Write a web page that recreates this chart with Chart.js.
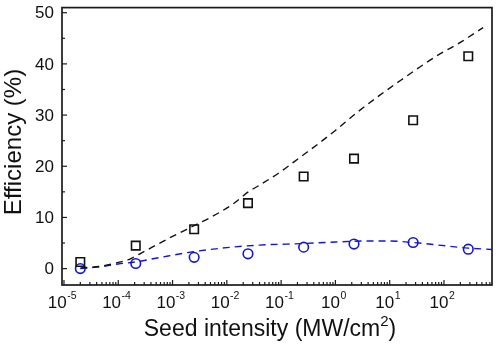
<!DOCTYPE html>
<html>
<head>
<meta charset="utf-8">
<script src="https://cdn.jsdelivr.net/npm/chart.js@4.4.1/dist/chart.umd.min.js"></script>
<style>
body{margin:0;background:#fff;}
#wrap{width:500px;height:346px;}
</style>
</head>
<body>
<div id="wrap"><canvas id="myChart"></canvas></div>
<script>
// measured points
const intensity = [2e-5, 2.1e-4, 2.5e-3, 2.45e-2, 0.26, 2.2, 27, 280];
const effSquares = [1.3, 4.5, 7.7, 12.8, 18.0, 21.5, 29.0, 41.5];
const effCircles = [0.0, 1.0, 2.2, 2.9, 4.2, 4.8, 5.1, 3.8];

// dashed simulation curves
const fitBlackX = [2e-5, 5e-5, 1e-4, 1.6e-4, 2.5e-4, 5e-4, 1e-3, 2.5e-3, 5e-3, 1.25e-2, 2.5e-2, 4e-2, 0.1, 0.22, 0.5, 1, 2.5, 6.6, 16, 36, 80, 200, 525];
const fitBlackY = [0.1, 0.5, 1.2, 1.8, 2.9, 4.6, 6.3, 8.4, 10.0, 12.5, 15.0, 16.3, 19.0, 21.7, 24.5, 27.0, 30.5, 33.9, 36.8, 39.4, 41.8, 44.2, 47.1];
const fitBlueX = [2e-5, 5e-5, 1e-4, 2.2e-4, 6e-4, 2.4e-3, 1e-2, 4e-2, 0.25, 1, 4, 10, 27, 80, 280, 750];
const fitBlueY = [0.0, 0.4, 0.9, 1.35, 2.2, 3.3, 4.1, 4.6, 4.9, 5.2, 5.4, 5.4, 5.1, 4.6, 4.0, 3.75];

const yTicks = [0, 10, 20, 30, 40, 50];
const xTickExp = [-5, -4, -3, -2, -1, 0, 1, 2];

const xMin = 9.2e-6, xMax = 766, yMin = -3.2, yMax = 51;
const blue = 'rgb(20,20,215)';
const fam = '"Liberation Sans", Arial, sans-serif';

const pts = (xs, ys) => xs.map((x, i) => ({x: x, y: ys[i]}));

const axesPlugin = {
    id: 'axesPlugin',
    afterDraw(chart){
        const ctx = chart.ctx;
        const a = chart.chartArea;
        const xs = chart.scales.x, ys = chart.scales.y;
        ctx.save();
        ctx.strokeStyle = '#1a1a1a';
        ctx.fillStyle = '#111';
        ctx.lineWidth = 1.7;
        ctx.strokeRect(a.left, a.top, a.right - a.left, a.bottom - a.top);

        // y ticks, inward
        ctx.lineWidth = 1.2;
        for (let v = 0; v <= 50; v += 5){
            const py = ys.getPixelForValue(v);
            const len = v % 10 === 0 ? 5 : 3;
            ctx.beginPath(); ctx.moveTo(a.left, py); ctx.lineTo(a.left + len, py); ctx.stroke();
        }
        // x ticks, inward
        for (let e = -6; e <= 3; e++){
            for (let m = 1; m <= 9; m++){
                const v = m * Math.pow(10, e);
                if (v < xMin || v > xMax) continue;
                const px = xs.getPixelForValue(v);
                const len = m === 1 ? 5 : 3;
                ctx.beginPath(); ctx.moveTo(px, a.bottom); ctx.lineTo(px, a.bottom - len); ctx.stroke();
            }
        }

        // y labels
        ctx.font = '17px ' + fam;
        ctx.textAlign = 'right';
        ctx.textBaseline = 'middle';
        yTicks.forEach(v => ctx.fillText(String(v), a.left - 8, ys.getPixelForValue(v) + 1));

        // x labels 10^n
        ctx.textAlign = 'left';
        ctx.textBaseline = 'alphabetic';
        xTickExp.forEach(e => {
            const px = xs.getPixelForValue(Math.pow(10, e));
            ctx.font = '17px ' + fam;
            const w1 = ctx.measureText('10').width;
            ctx.font = '10.5px ' + fam;
            const w2 = ctx.measureText(String(e)).width;
            const x0 = px - (w1 + w2) / 2 - 2;
            ctx.font = '17px ' + fam;
            ctx.fillText('10', x0, 308);
            ctx.font = '10.5px ' + fam;
            ctx.fillText(String(e), x0 + w1 + 0.5, 298.5);
        });

        // x title with superscript
        const big = '23px ' + fam;
        const small = '15px ' + fam;
        const t1 = 'Seed intensity (MW/cm', t2 = '2', t3 = ')';
        ctx.font = big; const w1 = ctx.measureText(t1).width; const w3 = ctx.measureText(t3).width;
        ctx.font = small; const w2 = ctx.measureText(t2).width;
        let x0 = 270 - (w1 + w2 + w3) / 2;
        ctx.font = big; ctx.fillText(t1, x0, 335.5);
        ctx.font = small; ctx.fillText(t2, x0 + w1, 326);
        ctx.font = big; ctx.fillText(t3, x0 + w1 + w2, 335.5);

        // y title
        ctx.translate(14, 142);
        ctx.rotate(-Math.PI / 2);
        ctx.textAlign = 'center';
        ctx.textBaseline = 'middle';
        ctx.font = '24px ' + fam;
        ctx.fillText('Efficiency (%)', 0, 0);
        ctx.restore();
    }
};

const myChart = new Chart('myChart', {
    type: 'scatter',
    data: {
        datasets: [{
            type: 'line',
            data: pts(fitBlackX, fitBlackY),
            borderColor: '#111',
            borderWidth: 1.4,
            borderDash: [7, 5],
            pointRadius: 0,
            cubicInterpolationMode: 'monotone',
            fill: false
        }, {
            type: 'line',
            data: pts(fitBlueX, fitBlueY),
            borderColor: blue,
            borderWidth: 1.4,
            borderDash: [7, 5],
            pointRadius: 0,
            cubicInterpolationMode: 'monotone',
            fill: false
        }, {
            data: pts(intensity, effSquares),
            pointStyle: 'rect',
            pointRadius: 6,
            borderColor: '#111',
            borderWidth: 1.6,
            backgroundColor: 'rgba(0,0,0,0)'
        }, {
            data: pts(intensity, effCircles),
            pointStyle: 'circle',
            pointRadius: 4.8,
            borderColor: blue,
            borderWidth: 1.6,
            backgroundColor: 'rgba(0,0,0,0)'
        }]
    },
    options: {
        responsive: true,
        maintainAspectRatio: false,
        animation: false,
        layout: {padding: {left: 62, top: 5, right: 8, bottom: 61}},
        plugins: {legend: {display: false}, tooltip: {enabled: false}},
        scales: {
            x: {type: 'logarithmic', min: xMin, max: xMax, display: false},
            y: {type: 'linear', min: yMin, max: yMax, display: false}
        }
    },
    plugins: [axesPlugin]
});
</script>
</body>
</html>
